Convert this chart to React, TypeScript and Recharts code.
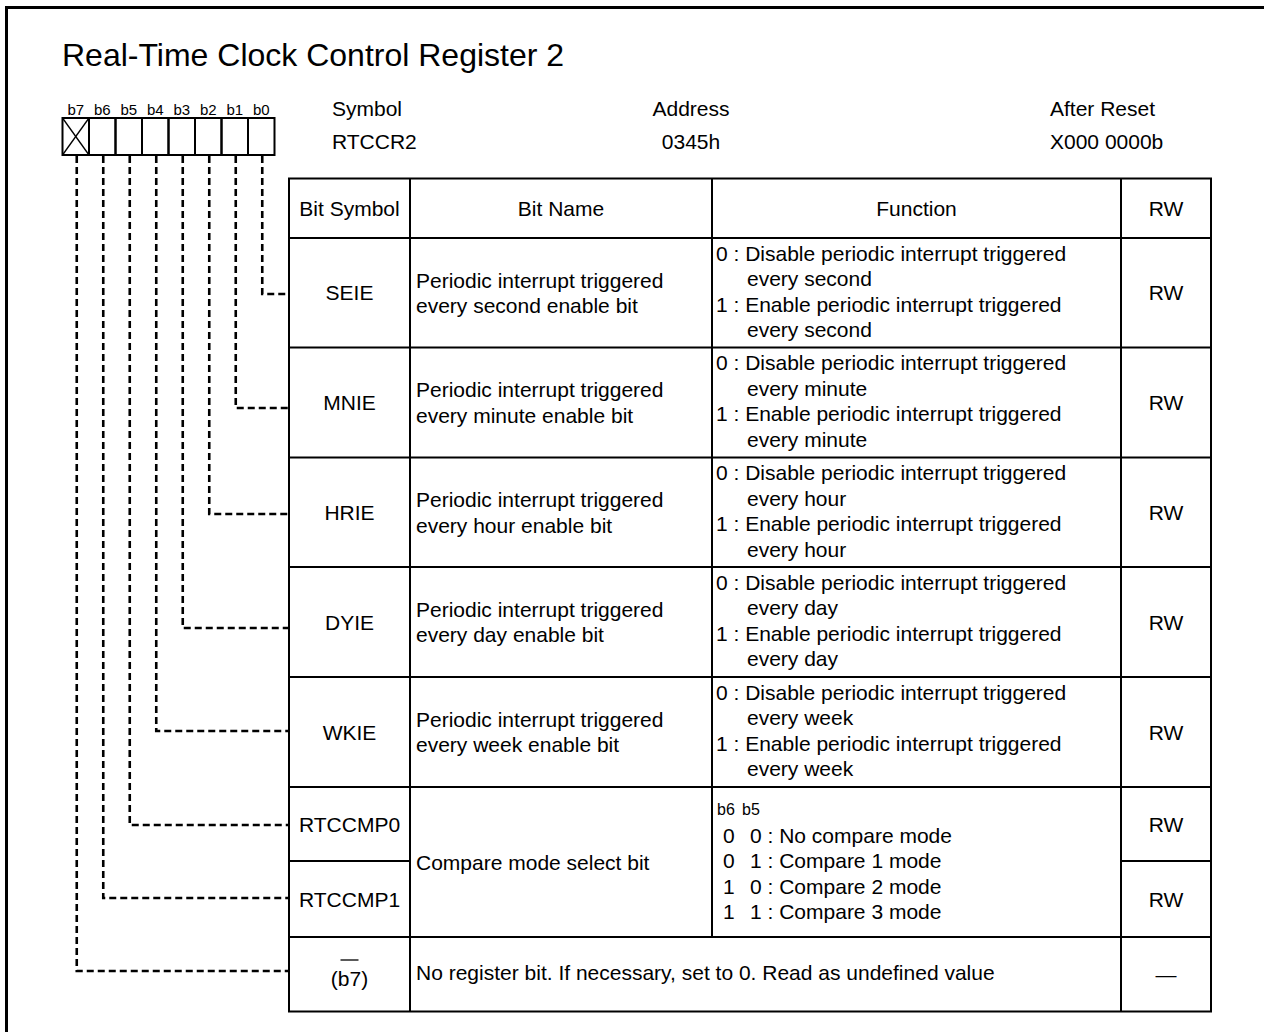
import React from "react";
import { Surface, Layer, Rectangle } from "recharts";

// ---------- data ----------
const TITLE = "Real-Time Clock Control Register 2";
const BIT_LABELS = ["b7", "b6", "b5", "b4", "b3", "b2", "b1", "b0"];
const INFO_LABELS = ["Symbol", "Address", "After Reset"];
const INFO_VALUES = ["RTCCR2", "0345h", "X000 0000b"];
const COLUMN_HEADERS = ["Bit Symbol", "Bit Name", "Function", "RW"];
const BIT_SYMBOLS = ["SEIE", "MNIE", "HRIE", "DYIE", "WKIE", "RTCCMP0", "RTCCMP1", "(b7)"];
const ROW_BITS = [0, 1, 2, 3, 4, 5, 6, 7];
const BIT_NAMES = [
  ["Periodic interrupt triggered", "every second enable bit"],
  ["Periodic interrupt triggered", "every minute enable bit"],
  ["Periodic interrupt triggered", "every hour enable bit"],
  ["Periodic interrupt triggered", "every day enable bit"],
  ["Periodic interrupt triggered", "every week enable bit"],
];
const FUNCTIONS = [
  ["0 : Disable periodic interrupt triggered", "every second", "1 : Enable periodic interrupt triggered", "every second"],
  ["0 : Disable periodic interrupt triggered", "every minute", "1 : Enable periodic interrupt triggered", "every minute"],
  ["0 : Disable periodic interrupt triggered", "every hour", "1 : Enable periodic interrupt triggered", "every hour"],
  ["0 : Disable periodic interrupt triggered", "every day", "1 : Enable periodic interrupt triggered", "every day"],
  ["0 : Disable periodic interrupt triggered", "every week", "1 : Enable periodic interrupt triggered", "every week"],
];
const COMPARE_NAME = "Compare mode select bit";
const COMPARE_HEAD = ["b6", "b5"];
const COMPARE_B6 = ["0", "0", "1", "1"];
const COMPARE_TEXT = ["0 : No compare mode", "1 : Compare 1 mode", "0 : Compare 2 mode", "1 : Compare 3 mode"];
const NO_BIT_TEXT = "No register bit. If necessary, set to 0. Read as undefined value";
const RW_VALUES = ["RW", "RW", "RW", "RW", "RW", "RW", "RW", "\u2014"];

// ---------- layout ----------
const W = 1264;
const H = 1032;
const FONT = "'Liberation Sans', Arial, Helvetica, sans-serif";
const FS = 21;
const BOX_X0 = 62.5;
const BOX_W = 26.5;
const BOX_Y0 = 118;
const BOX_Y1 = 155;
const COLS = [289, 410, 712, 1121, 1211];
const ROWS = [178.5, 238, 347.5, 457.5, 567, 677, 787, 861, 937, 1011.5];
const LINK_Y = [294, 408, 514, 628, 731, 825, 898, 971];
const LINE_H = 25.5;
const CAP = 7.5;

const T = (props: any) => (
  <text fontFamily={FONT} fontSize={FS} fill="#000" {...props} />
);

const line = (x1: number, y1: number, x2: number, y2: number, key: string, extra: any = {}) => (
  <line key={key} x1={x1} y1={y1} x2={x2} y2={y2} stroke="#000" strokeWidth={2} {...extra} />
);

export default function App() {
  const colMid = (i: number) => (COLS[i] + COLS[i + 1]) / 2;
  const rowMid = (r: number) => (ROWS[r] + ROWS[r + 1]) / 2;

  const boxes = BIT_LABELS.map((lab, i) => {
    const x = BOX_X0 + i * BOX_W;
    return (
      <Layer key={lab}>
        <Rectangle x={x} y={BOX_Y0} width={BOX_W} height={BOX_Y1 - BOX_Y0} fill="none" stroke="#000" strokeWidth={2} />
        <T x={x + BOX_W / 2} y={115} fontSize={15} textAnchor="middle">{lab}</T>
        {i === 0 && line(x, BOX_Y0, x + BOX_W, BOX_Y1, "d1", { strokeWidth: 1.3 })}
        {i === 0 && line(x + BOX_W, BOX_Y0, x, BOX_Y1, "d2", { strokeWidth: 1.3 })}
      </Layer>
    );
  });

  const links = ROW_BITS.map((bit, r) => {
    const idx = 7 - bit;
    const x = BOX_X0 + idx * BOX_W + BOX_W / 2 + 1;
    const y = LINK_Y[r];
    return (
      <path
        key={"link" + r}
        d={`M${x},${BOX_Y1 + 1} L${x},${y} L${COLS[0]},${y}`}
        fill="none"
        stroke="#000"
        strokeWidth={2.6}
        strokeDasharray="7 4"
      />
    );
  });

  // table grid
  const grid: any[] = [];
  grid.push(
    <Rectangle key="outer" x={COLS[0]} y={ROWS[0]} width={COLS[4] - COLS[0]} height={ROWS[9] - ROWS[0]} fill="#fff" stroke="#000" strokeWidth={2} />
  );
  grid.push(line(COLS[1], ROWS[0], COLS[1], ROWS[9], "v1"));
  grid.push(line(COLS[2], ROWS[0], COLS[2], ROWS[8], "v2"));
  grid.push(line(COLS[3], ROWS[0], COLS[3], ROWS[9], "v3"));
  [1, 2, 3, 4, 5, 6, 8].forEach((r) => grid.push(line(COLS[0], ROWS[r], COLS[4], ROWS[r], "h" + r)));
  grid.push(line(COLS[0], ROWS[7], COLS[1], ROWS[7], "h7a"));
  grid.push(line(COLS[3], ROWS[7], COLS[4], ROWS[7], "h7b"));

  const texts: any[] = [];
  COLUMN_HEADERS.forEach((h, i) =>
    texts.push(<T key={"ch" + i} x={colMid(i)} y={rowMid(0) + CAP} textAnchor="middle">{h}</T>)
  );
  BIT_SYMBOLS.forEach((s, r) => {
    const cy = rowMid(r + 1);
    if (r === 7) {
      texts.push(line(colMid(0) - 9, 960, colMid(0) + 9, 960, "ovl", { strokeWidth: 1.3 }));
      texts.push(<T key={"sym" + r} x={colMid(0)} y={986} textAnchor="middle">{s}</T>);
    } else {
      texts.push(<T key={"sym" + r} x={colMid(0)} y={cy + CAP} textAnchor="middle">{s}</T>);
    }
    texts.push(<T key={"rw" + r} x={colMid(3)} y={cy + CAP} textAnchor="middle">{RW_VALUES[r]}</T>);
  });
  BIT_NAMES.forEach((lines, r) => {
    const cy = rowMid(r + 1);
    lines.forEach((l, i) =>
      texts.push(<T key={`bn${r}-${i}`} x={416} y={cy + CAP + (i - 0.5) * LINE_H}>{l}</T>)
    );
  });
  FUNCTIONS.forEach((lines, r) => {
    const cy = rowMid(r + 1) - 1.5;
    lines.forEach((l, i) =>
      texts.push(
        <T key={`fn${r}-${i}`} x={i % 2 === 0 ? 716 : 747} y={cy + CAP + (i - 1.5) * LINE_H}>{l}</T>
      )
    );
  });
  // compare rows
  texts.push(<T key="cmpname" x={416} y={ROWS[7] + CAP + 1}>{COMPARE_NAME}</T>);
  texts.push(<T key="cmph0" x={717} y={815} fontSize={16}>{COMPARE_HEAD[0]}</T>);
  texts.push(<T key="cmph1" x={742} y={815} fontSize={16}>{COMPARE_HEAD[1]}</T>);
  COMPARE_TEXT.forEach((l, i) => {
    const y = 842.5 + i * 25.5;
    texts.push(<T key={"cb" + i} x={723} y={y}>{COMPARE_B6[i]}</T>);
    texts.push(<T key={"ct" + i} x={750} y={y}>{l}</T>);
  });
  texts.push(<T key="nobit" x={416} y={980}>{NO_BIT_TEXT}</T>);

  return (
    <div style={{ position: "absolute", left: 0, top: 0, width: W, height: H, background: "#fff" }}>
      <Surface width={W} height={H}>
        <rect x={0} y={0} width={W} height={H} fill="#fff" />
        {line(6.5, 7.5, 6.5, H + 5, "frameL", { strokeWidth: 3 })}
        {line(5, 7.5, W + 5, 7.5, "frameT", { strokeWidth: 3 })}
        <T x={62} y={66} fontSize={32}>{TITLE}</T>
        <T x={332} y={116}>{INFO_LABELS[0]}</T>
        <T x={332} y={149}>{INFO_VALUES[0]}</T>
        <T x={691} y={116} textAnchor="middle">{INFO_LABELS[1]}</T>
        <T x={691} y={149} textAnchor="middle">{INFO_VALUES[1]}</T>
        <T x={1050} y={116}>{INFO_LABELS[2]}</T>
        <T x={1050} y={149}>{INFO_VALUES[2]}</T>
        {boxes}
        {grid}
        {links}
        {texts}
      </Surface>
    </div>
  );
}
